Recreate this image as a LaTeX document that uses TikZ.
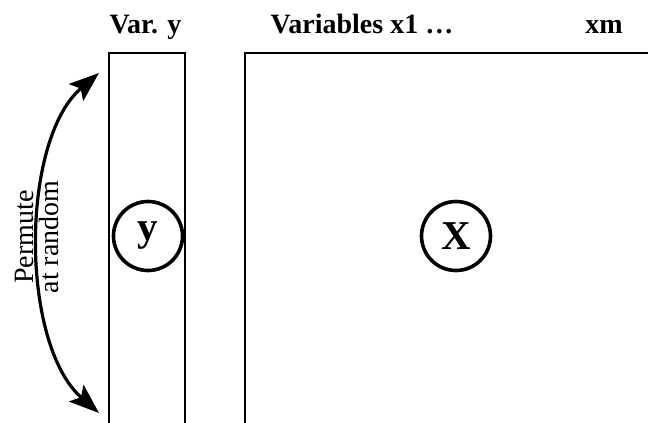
\documentclass[tikz,border=0pt]{standalone}
\usepackage{fontspec}
\setmainfont{Liberation Serif}
\usetikzlibrary{arrows.meta}
\begin{document}
\begin{tikzpicture}[x=1pt,y=-1pt,
  boxline/.style={line width=2pt},
  ring/.style={circle,draw,line width=3.6pt,minimum size=69pt,inner sep=0pt,font=\fontsize{41}{41}\selectfont\bfseries},
  head/.style={font=\fontsize{28}{28}\selectfont\bfseries,anchor=base},
  side/.style={font=\fontsize{28}{28}\selectfont,rotate=90,anchor=base},
  permhead/.tip={Stealth[length=30pt,width=22pt,inset=6pt]},
  permarrow/.style={line width=3.2pt,permhead-permhead}]
\useasboundingbox (0,0) rectangle (648,423);
\clip (0,0) rectangle (648,423);
% boxes
\draw[boxline] (109,430) -- (109,53) -- (185,53) -- (185,430);
\draw[boxline] (245,430) -- (245,53) -- (660,53);
% circles
\node[ring] (y) at (148,236) {\raisebox{-2pt}{y}};
\node[ring] (X) at (456,236) {X};
% headings
\node[head] (hy) at (145.5,33) {Var. y};
\node[head] (hx) at (362,33) {Variables x1 …};
\node[head] (hm) at (604,33) {xm};
% arrow
\coordinate (atop) at (99,73);
\coordinate (abot) at (99,413);
\draw[permarrow] (atop) .. controls (20,140) and (20,344) .. (abot);
\node[side] (p1) at (34,237) {Permute};
\node[side] (p2) at (58,237) {at random};
\end{tikzpicture}
\end{document}
